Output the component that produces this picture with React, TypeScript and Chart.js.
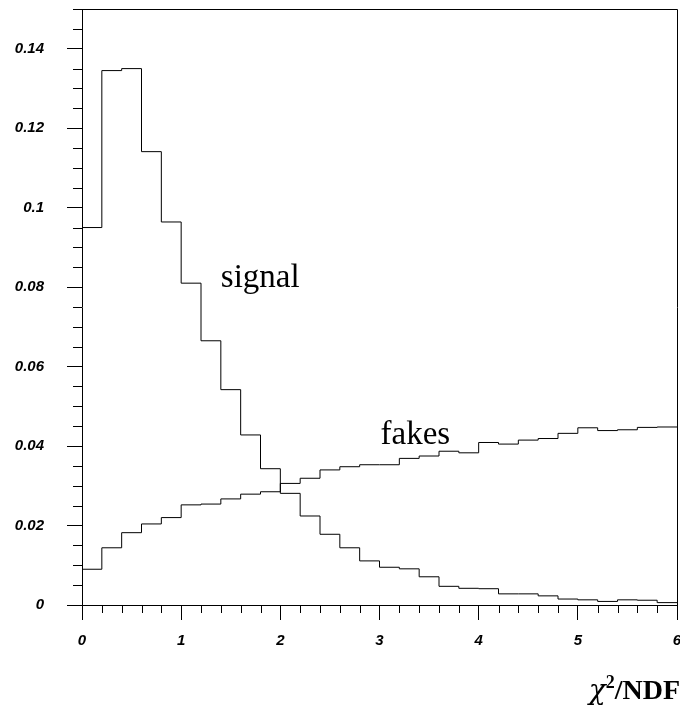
import { useEffect, useRef } from "react";
import { Chart, registerables } from "chart.js";

Chart.register(...registerables);

// Histogram bin edges along chi^2/NDF (30 bins of width 0.2)
const binEdges = [
  0, 0.2, 0.4, 0.6, 0.8, 1.0, 1.2, 1.4, 1.6, 1.8,
  2.0, 2.2, 2.4, 2.6, 2.8, 3.0, 3.2, 3.4, 3.6, 3.8,
  4.0, 4.2, 4.4, 4.6, 4.8, 5.0, 5.2, 5.4, 5.6, 5.8, 6.0,
];

// Normalised bin contents
const signalValues = [
  0.095, 0.1345, 0.135, 0.1141, 0.0964, 0.081, 0.0665, 0.0542, 0.0428, 0.0343,
  0.0281, 0.0224, 0.0178, 0.0144, 0.0111, 0.0095, 0.0091, 0.0071, 0.0047, 0.0042,
  0.0041, 0.0028, 0.0028, 0.0023, 0.0015, 0.0013, 0.0009, 0.0013, 0.0012, 0.0006,
];

const fakesValues = [
  0.009, 0.0144, 0.0182, 0.0204, 0.022, 0.0252, 0.0254, 0.0267, 0.0279, 0.0285,
  0.0306, 0.0319, 0.034, 0.0348, 0.0353, 0.0353, 0.0369, 0.0375, 0.0387, 0.0383,
  0.0409, 0.0405, 0.0415, 0.0419, 0.0432, 0.0446, 0.0439, 0.0441, 0.0447, 0.0448,
];

const xTickValues = [0, 1, 2, 3, 4, 5, 6];
const yTickValues = [0, 0.02, 0.04, 0.06, 0.08, 0.1, 0.12, 0.14];
const xLimits = [0, 6];
const yLimits = [0, 0.15];

// Curve labels placed in data coordinates (left edge, baseline)
const curveLabels = [
  { text: "signal", x: 1.4, y: 0.0801 },
  { text: "fakes", x: 3.01, y: 0.0405 },
];

const tickFont = {
  family: "'Liberation Sans', Arial, sans-serif",
  size: 15,
  weight: "bold" as const,
  style: "italic" as const,
};

function stepPoints(values: number[]) {
  const pts = values.map((v, i) => ({ x: binEdges[i], y: v }));
  pts.push({ x: binEdges[values.length], y: values[values.length - 1] });
  return pts;
}

function formatTick(v: number) {
  return String(Number(v.toFixed(3)));
}

const decorPlugin = {
  id: "histDecor",
  afterDraw(chart: any) {
    const { ctx, chartArea: a } = chart;
    const xs = chart.scales.x;
    const ys = chart.scales.y;
    ctx.save();
    ctx.strokeStyle = "#000";
    ctx.lineWidth = 1;
    ctx.beginPath();
    // frame: top and right edges
    const top = Math.round(a.top) + 0.5;
    const right = Math.round(a.right) + 0.5;
    const left = Math.round(a.left) + 0.5;
    const bottom = Math.round(a.bottom) + 0.5;
    ctx.moveTo(left, top);
    ctx.lineTo(right, top);
    ctx.lineTo(right, bottom);

    // minor ticks on y (every 0.005)
    for (let k = 1; k * 0.005 <= yLimits[1] + 1e-9; k++) {
      if (k % 4 === 0) continue;
      const py = Math.round(ys.getPixelForValue(k * 0.005)) + 0.5;
      ctx.moveTo(a.left - 9, py);
      ctx.lineTo(a.left, py);
    }
    // minor ticks on x (every bin edge)
    for (const e of binEdges) {
      if (Math.abs(e - Math.round(e)) < 1e-6) continue;
      const px = Math.round(xs.getPixelForValue(e)) + 0.5;
      ctx.moveTo(px, a.bottom);
      ctx.lineTo(px, a.bottom + 8);
    }
    ctx.stroke();

    // curve labels
    ctx.fillStyle = "#000";
    ctx.textAlign = "left";
    ctx.textBaseline = "alphabetic";
    ctx.font = "33px 'Liberation Serif', 'Times New Roman', serif";
    for (const l of curveLabels) {
      ctx.fillText(l.text, xs.getPixelForValue(l.x), ys.getPixelForValue(l.y));
    }

    // axis title: chi^2/NDF, right-aligned under the axis
    const chiFont = "italic 28px 'DejaVu Serif', serif";
    const big = "bold 28px 'Liberation Serif', 'Times New Roman', serif";
    const small = "bold 18px 'Liberation Serif', 'Times New Roman', serif";
    ctx.font = chiFont;
    const wChi = ctx.measureText("\u03c7").width;
    ctx.font = big;
    const wRest = ctx.measureText("/NDF").width;
    ctx.font = small;
    const wSup = ctx.measureText("2").width;
    const baseY = 699;
    let x0 = 680 - (wChi + wSup + wRest);
    ctx.font = chiFont;
    ctx.fillText("\u03c7", x0, baseY);
    x0 += wChi;
    ctx.font = small;
    ctx.fillText("2", x0, baseY - 11);
    x0 += wSup;
    ctx.font = big;
    ctx.fillText("/NDF", x0, baseY);
    ctx.restore();
  },
};

export default function App() {
  const canvasRef = useRef<HTMLCanvasElement | null>(null);

  useEffect(() => {
    if (!canvasRef.current) return;
    const chart = new Chart(canvasRef.current, {
      type: "line",
      data: {
        datasets: [
          {
            label: "signal",
            data: stepPoints(signalValues),
            stepped: true,
            borderColor: "#000",
            borderWidth: 1,
            pointRadius: 0,
            fill: false,
          },
          {
            label: "fakes",
            data: stepPoints(fakesValues),
            stepped: true,
            borderColor: "#000",
            borderWidth: 1,
            pointRadius: 0,
            fill: false,
          },
        ],
      },
      options: {
        animation: false,
        responsive: false,
        devicePixelRatio: 1,
        layout: { padding: { top: 9, right: 3, left: 0, bottom: 0 } },
        plugins: {
          legend: { display: false },
          tooltip: { enabled: false },
        },
        scales: {
          x: {
            type: "linear",
            min: xLimits[0],
            max: xLimits[1],
            afterBuildTicks: (s: any) => {
              s.ticks = xTickValues.map((v) => ({ value: v }));
            },
            afterFit: (s: any) => {
              s.height = 108;
              s.paddingLeft = 0;
              s.paddingRight = 0;
            },
            grid: {
              drawOnChartArea: false,
              drawTicks: true,
              tickLength: 15,
              color: "#000",
              lineWidth: 1,
            },
            border: { display: true, color: "#000", width: 1 },
            ticks: {
              font: tickFont,
              color: "#000",
              padding: 12,
              maxRotation: 0,
              autoSkip: false,
              callback: (v: any) => formatTick(Number(v)),
            },
          },
          y: {
            type: "linear",
            min: yLimits[0],
            max: yLimits[1],
            afterBuildTicks: (s: any) => {
              s.ticks = yTickValues.map((v) => ({ value: v }));
            },
            afterFit: (s: any) => {
              s.width = 82;
              s.paddingTop = 0;
              s.paddingBottom = 0;
            },
            grid: {
              drawOnChartArea: false,
              drawTicks: true,
              tickLength: 15,
              color: "#000",
              lineWidth: 1,
            },
            border: { display: true, color: "#000", width: 1 },
            ticks: {
              font: tickFont,
              color: "#000",
              padding: 23,
              autoSkip: false,
              callback: (v: any) => formatTick(Number(v)),
            },
          },
        },
      },
      plugins: [decorPlugin],
    } as any);
    return () => chart.destroy();
  }, []);

  return (
    <div style={{ position: "absolute", left: 0, top: 0, width: 680, height: 713, background: "#fff" }}>
      <canvas ref={canvasRef} width={680} height={713} style={{ display: "block" }} />
    </div>
  );
}
